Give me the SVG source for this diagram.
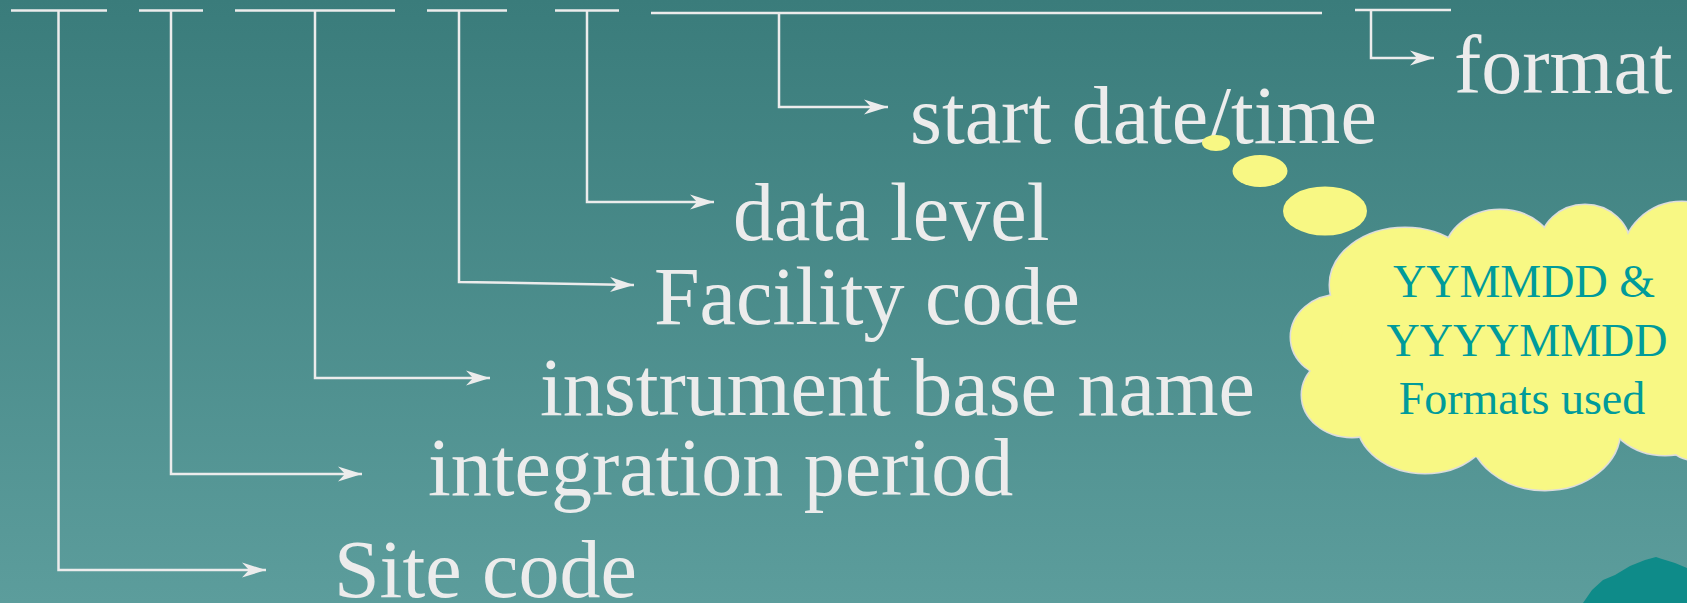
<svg xmlns="http://www.w3.org/2000/svg" width="1687" height="603" viewBox="0 0 1687 603">
<defs>
<linearGradient id="bg" x1="0" y1="0" x2="0" y2="1">
<stop offset="0" stop-color="#3a7c7b"/>
<stop offset="1" stop-color="#5c9d9c"/>
</linearGradient>
<marker id="ah" viewBox="0 0 26 16" refX="24" refY="8" markerWidth="26" markerHeight="16" orient="auto" markerUnits="userSpaceOnUse">
<path d="M0,0.5 L24,8 L0,15.5 L7,8 Z" fill="#ececec"/>
</marker>
<style>
.lbl{font-family:"Liberation Serif","Times New Roman",serif;font-size:82px;fill:#ececec}
.ctx{font-family:"Liberation Serif","Times New Roman",serif;font-size:46px;fill:#009b9b;text-anchor:middle}
.bar{stroke:#ececec;stroke-width:2.5;fill:none}
.con{stroke:#ececec;stroke-width:2.5;fill:none;marker-end:url(#ah)}
.cl{fill:#f8f884}
.clo{fill:none;stroke:#dcdcdc;stroke-width:3}
</style>
</defs>
<rect width="1687" height="603" fill="url(#bg)"/>
<path d="M1583,603 L1592,590 L1603,580 L1615,575 L1630,566 L1645,560 L1656,557 L1662,559 L1675,563 L1687,568 L1687,603 Z" fill="#0e8b89"/>
<g id="connectors">
<line class="bar" x1="11" y1="10.5" x2="107" y2="10.5"/>
<line class="bar" x1="139" y1="10.5" x2="203" y2="10.5"/>
<line class="bar" x1="235" y1="10.5" x2="395" y2="10.5"/>
<line class="bar" x1="427" y1="10.5" x2="507" y2="10.5"/>
<line class="bar" x1="555" y1="10.5" x2="619" y2="10.5"/>
<line class="bar" x1="651" y1="13" x2="1322" y2="13"/>
<line class="bar" x1="1355" y1="10" x2="1451" y2="10"/>
<path class="con" d="M58.5,10.5 V570 H266"/>
<path class="con" d="M171,10.5 V474 H362"/>
<path class="con" d="M315,10.5 V378 H490"/>
<path class="con" d="M459,10.5 V282 L634,285"/>
<path class="con" d="M587,10.5 V202 H714"/>
<path class="con" d="M779,13 V107 H888"/>
<path class="con" d="M1371,10 V58 H1434"/>
</g>
<g id="site-code"><text class="lbl" x="334" y="597">Site code</text></g>
<g id="integration-period"><text class="lbl" x="428" y="495">integration period</text></g>
<g id="instrument-base-name"><text class="lbl" x="540" y="415">instrument base name</text></g>
<g id="facility-code"><text class="lbl" x="654" y="324">Facility code</text></g>
<g id="data-level"><text class="lbl" x="733" y="240">data level</text></g>
<g id="start-date-time"><text class="lbl" x="910" y="143">start date/time</text></g>
<g id="format"><text class="lbl" x="1454" y="93">format</text></g>
<g id="callout">
<g class="clo">
<ellipse cx="1405" cy="285" rx="75" ry="57"/>
<ellipse cx="1500" cy="255" rx="55" ry="45"/>
<ellipse cx="1585" cy="247" rx="45" ry="42"/>
<ellipse cx="1682" cy="260" rx="60" ry="58"/>
<ellipse cx="1695" cy="380" rx="50" ry="80"/>
<ellipse cx="1340" cy="337" rx="49" ry="42"/>
<ellipse cx="1352" cy="395" rx="50" ry="42"/>
<ellipse cx="1425" cy="420" rx="68" ry="53"/>
<ellipse cx="1545" cy="430" rx="75" ry="60"/>
<ellipse cx="1665" cy="405" rx="60" ry="50"/>
</g>
<g class="cl">
<ellipse cx="1405" cy="285" rx="75" ry="57"/>
<ellipse cx="1500" cy="255" rx="55" ry="45"/>
<ellipse cx="1585" cy="247" rx="45" ry="42"/>
<ellipse cx="1682" cy="260" rx="60" ry="58"/>
<ellipse cx="1695" cy="380" rx="50" ry="80"/>
<ellipse cx="1340" cy="337" rx="49" ry="42"/>
<ellipse cx="1352" cy="395" rx="50" ry="42"/>
<ellipse cx="1425" cy="420" rx="68" ry="53"/>
<ellipse cx="1545" cy="430" rx="75" ry="60"/>
<ellipse cx="1665" cy="405" rx="60" ry="50"/>
<ellipse cx="1515" cy="350" rx="175" ry="110"/>
</g>
<ellipse class="cl" cx="1216" cy="143" rx="14" ry="8"/>
<ellipse class="cl" cx="1260" cy="171" rx="27.5" ry="16"/>
<ellipse class="cl" cx="1325" cy="211" rx="42" ry="24.5"/>
<text class="ctx" x="1524" y="297">YYMMDD &amp;</text>
<text class="ctx" x="1527" y="356">YYYYMMDD</text>
<text class="ctx" x="1522" y="414">Formats used</text>
</g>
</svg>
